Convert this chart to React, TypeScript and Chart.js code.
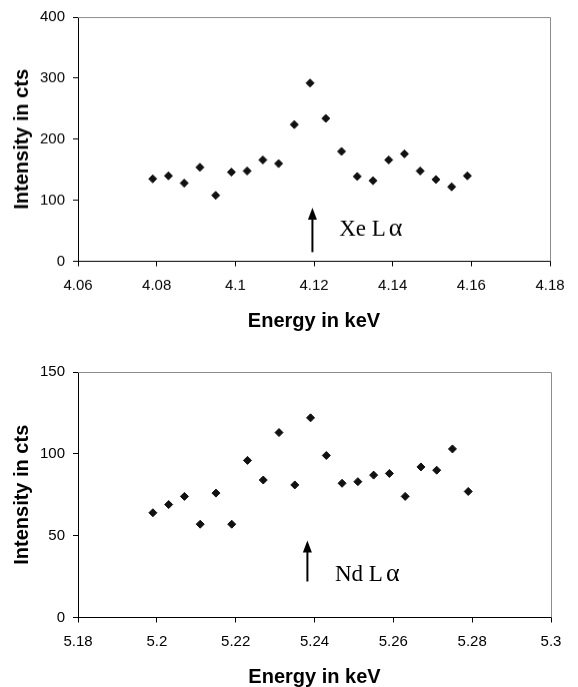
import React, { useEffect, useRef } from "react";
import { Chart, registerables } from "chart.js";
Chart.register(...registerables);

// ---- Data: Xe L-alpha region ----
const xeEnergy = [4.079, 4.083, 4.087, 4.091, 4.095, 4.099, 4.103, 4.107, 4.111, 4.115, 4.119, 4.123, 4.127, 4.131, 4.135, 4.139, 4.143, 4.147, 4.151, 4.155, 4.159];
const xeCounts = [135, 140, 128, 154, 108, 146, 148, 166, 160, 224, 292, 234, 180, 139, 132, 166, 176, 148, 134, 122, 140];
const xeXTicks = [4.06, 4.08, 4.1, 4.12, 4.14, 4.16, 4.18];
const xeYTicks = [0, 100, 200, 300, 400];
const xeLabel = "Xe L\u03b1";
const xeArrow = [4.1196, 15, 88]; // x, y from, y tip
const xeLabelPos = [4.1264, 42];

// ---- Data: Nd L-alpha region ----
const ndEnergy = [5.199, 5.203, 5.207, 5.211, 5.215, 5.219, 5.223, 5.227, 5.231, 5.235, 5.239, 5.243, 5.247, 5.251, 5.255, 5.259, 5.263, 5.267, 5.271, 5.275, 5.279];
const ndCounts = [64, 69, 74, 57, 76, 57, 96, 84, 113, 81, 122, 99, 82, 83, 87, 88, 74, 92, 90, 103, 77];
const ndXTicks = [5.18, 5.2, 5.22, 5.24, 5.26, 5.28, 5.3];
const ndYTicks = [0, 50, 100, 150];
const ndLabel = "Nd L\u03b1";
const ndArrow = [5.2382, 22, 47];
const ndLabelPos = [5.2452, 22];

const xTitle = "Energy in keV";
const yTitle = "Intensity in cts";

type Cfg = {
  xs: number[]; ys: number[]; xTicks: number[]; yTicks: number[];
  label: string; arrow: number[]; labelPos: number[];
  padTop: number; padRight: number;
};

function makeChart(canvas: HTMLCanvasElement, c: Cfg) {
  const annotate = {
    id: "annotate",
    beforeDatasetsDraw(chart: any) {
      const { ctx, chartArea: a } = chart;
      ctx.save();
      ctx.strokeStyle = "#8c8c8c";
      ctx.lineWidth = 1;
      ctx.beginPath();
      ctx.moveTo(a.left, a.top + 0.5);
      ctx.lineTo(a.right + 0.5, a.top + 0.5);
      ctx.lineTo(a.right + 0.5, a.bottom);
      ctx.stroke();
      ctx.restore();
    },
    afterDatasetsDraw(chart: any) {
      const { ctx } = chart;
      const sx = chart.scales.x, sy = chart.scales.y;
      const px = sx.getPixelForValue(c.arrow[0]);
      const yBase = sy.getPixelForValue(c.arrow[1]);
      const yTip = sy.getPixelForValue(c.arrow[2]);
      ctx.save();
      ctx.strokeStyle = "#000";
      ctx.fillStyle = "#000";
      ctx.lineWidth = 2;
      ctx.beginPath();
      ctx.moveTo(px, yBase);
      ctx.lineTo(px, yTip + 8);
      ctx.stroke();
      ctx.beginPath();
      ctx.moveTo(px, yTip);
      ctx.lineTo(px - 4.5, yTip + 12);
      ctx.lineTo(px + 4.5, yTip + 12);
      ctx.closePath();
      ctx.fill();
      ctx.font = '23px "Liberation Serif", "Times New Roman", serif';
      ctx.textBaseline = "alphabetic";
      ctx.textAlign = "left";
      const tx = sx.getPixelForValue(c.labelPos[0]);
      const ty = sy.getPixelForValue(c.labelPos[1]);
      const main = c.label.slice(0, -1);
      const greek = c.label.slice(-1);
      ctx.fillText(main, tx, ty);
      const w = ctx.measureText(main).width;
      ctx.font = '26px "Liberation Serif", "Times New Roman", serif';
      ctx.fillText(greek, tx + w + 3, ty);
      ctx.restore();
    },
  };

  const tickFont = { family: '"Liberation Sans", Arial, sans-serif', size: 15 };
  const titleFont = { family: '"Liberation Sans", Arial, sans-serif', size: 20, weight: "bold" as const, lineHeight: 1 };

  return new Chart(canvas, {
    type: "scatter",
    data: {
      datasets: [
        {
          data: c.xs.map((x, i) => ({ x, y: c.ys[i] })),
          pointStyle: "rectRot",
          pointRadius: 4,
          pointBorderWidth: 1,
          backgroundColor: "#111",
          borderColor: "#111",
          showLine: false,
        },
      ],
    },
    options: {
      animation: false,
      responsive: false,
      events: [],
      layout: { padding: { top: c.padTop, right: c.padRight, left: 0, bottom: 0 } },
      plugins: { legend: { display: false }, tooltip: { enabled: false } },
      scales: {
        x: {
          type: "linear",
          min: c.xTicks[0],
          max: c.xTicks[c.xTicks.length - 1],
          afterBuildTicks: (s: any) => { s.ticks = c.xTicks.map((v) => ({ value: v })); },
          afterFit: (s: any) => { s.height = 69.5; },
          ticks: { font: tickFont, color: "#000", padding: 10, maxRotation: 0, autoSkip: false, callback: (v: any) => String(v) },
          grid: { display: true, drawOnChartArea: false, drawTicks: true, tickLength: 5, color: "#000" },
          border: { display: true, color: "#000", width: 1 },
          title: { display: true, text: xTitle, font: titleFont, color: "#000", padding: { top: 0, bottom: 0 } },
        },
        y: {
          type: "linear",
          min: c.yTicks[0],
          max: c.yTicks[c.yTicks.length - 1],
          afterBuildTicks: (s: any) => { s.ticks = c.yTicks.map((v) => ({ value: v })); },
          afterFit: (s: any) => { s.width = 78; },
          ticks: { font: tickFont, color: "#000", padding: 8, callback: (v: any) => String(v) },
          grid: { display: true, drawOnChartArea: false, drawTicks: true, tickLength: 5, color: "#000" },
          border: { display: true, color: "#000", width: 1 },
          title: { display: true, text: yTitle, font: titleFont, color: "#000", padding: { top: 12.5, bottom: 0 } },
        },
      },
    },
    plugins: [annotate],
  } as any);
}

function Panel(props: { top: number; height: number; cfg: Cfg }) {
  const ref = useRef<HTMLCanvasElement | null>(null);
  useEffect(() => {
    if (!ref.current) return;
    const ch = makeChart(ref.current, props.cfg);
    return () => ch.destroy();
  }, []);
  return (
    <canvas
      ref={ref}
      width={578}
      height={props.height}
      style={{ position: "absolute", left: 0, top: props.top, width: 578, height: props.height, display: "block" }}
    />
  );
}

export default function App() {
  return (
    <div style={{ position: "absolute", left: 0, top: 0, width: 578, height: 687, background: "#fff", overflow: "hidden" }}>
      <Panel
        top={0}
        height={330.5}
        cfg={{ xs: xeEnergy, ys: xeCounts, xTicks: xeXTicks, yTicks: xeYTicks, label: xeLabel, arrow: xeArrow, labelPos: xeLabelPos, padTop: 16, padRight: 28 }}
      />
      <Panel
        top={340}
        height={347}
        cfg={{ xs: ndEnergy, ys: ndCounts, xTicks: ndXTicks, yTicks: ndYTicks, label: ndLabel, arrow: ndArrow, labelPos: ndLabelPos, padTop: 32, padRight: 27 }}
      />
    </div>
  );
}
